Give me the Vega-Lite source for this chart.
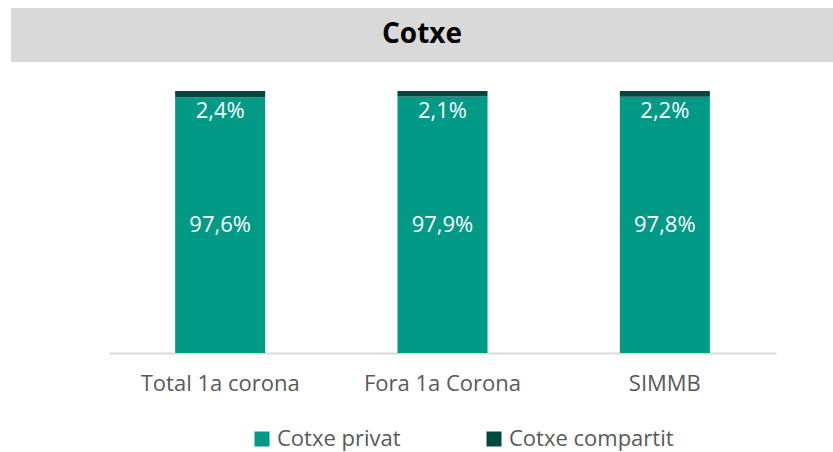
{
  "$schema": "https://vega.github.io/schema/vega-lite/v6.json",
  "padding": {"left": 11, "top": 8, "right": 0, "bottom": 2},
  "background": "white",
  "spacing": 29,
  "config": {
    "locale": {"number": {"decimal": ",", "thousands": ".", "grouping": [3], "currency": ["", " €"]}},
    "view": {"stroke": null},
    "font": "Open Sans"
  },
  "vconcat": [
    {
      "width": 822,
      "height": 54,
      "view": {"fill": "#d9d9d9", "stroke": null},
      "data": {"values": [{"titol": "Cotxe"}]},
      "mark": {"type": "text", "font": "Open Sans", "fontWeight": "bold", "fontSize": 28, "color": "#000000"},
      "encoding": {"text": {"field": "titol", "type": "nominal"}}
    },
    {
      "width": 765,
      "height": 262,
      "data": {
        "values": [
          {"categoria": "Total 1a corona", "serie": "Cotxe privat", "ordre": 1, "value": 0.976},
          {"categoria": "Total 1a corona", "serie": "Cotxe compartit", "ordre": 2, "value": 0.024},
          {"categoria": "Fora 1a Corona", "serie": "Cotxe privat", "ordre": 1, "value": 0.979},
          {"categoria": "Fora 1a Corona", "serie": "Cotxe compartit", "ordre": 2, "value": 0.021},
          {"categoria": "SIMMB", "serie": "Cotxe privat", "ordre": 1, "value": 0.978},
          {"categoria": "SIMMB", "serie": "Cotxe compartit", "ordre": 2, "value": 0.022}
        ]
      },
      "transform": [
        {"stack": "value", "groupby": ["categoria"], "sort": [{"field": "ordre", "order": "ascending"}], "as": ["v0", "v1"]},
        {"calculate": "(datum.v0 + datum.v1) / 2", "as": "vmid"}
      ],
      "encoding": {
        "x": {
          "field": "categoria",
          "type": "nominal",
          "sort": ["Total 1a corona", "Fora 1a Corona", "SIMMB"],
          "scale": {"range": [98, 765], "paddingInner": 0.595, "paddingOuter": 0.2975},
          "axis": {
            "title": null,
            "labelAngle": 0,
            "ticks": false,
            "domainColor": "#d9d9d9",
            "domainWidth": 2,
            "labelFont": "Open Sans",
            "labelFontSize": 22,
            "labelColor": "#595959",
            "labelPadding": 20
          }
        }
      },
      "layer": [
        {
          "mark": {"type": "bar"},
          "encoding": {
            "y": {
              "field": "v1",
              "type": "quantitative",
              "scale": {"domain": [0, 1], "nice": false},
              "axis": null
            },
            "y2": {"field": "v0"},
            "color": {
              "field": "serie",
              "type": "nominal",
              "scale": {"domain": ["Cotxe privat", "Cotxe compartit"], "range": ["#009a86", "#00493e"]},
              "legend": {
                "orient": "none",
                "legendX": 240,
                "legendY": 420,
                "direction": "horizontal",
                "title": null,
                "symbolType": "square",
                "symbolSize": 225,
                "symbolStrokeWidth": 0,
                "labelFont": "Open Sans",
                "labelFontSize": 22,
                "labelColor": "#595959",
                "labelOffset": 4,
                "labelLimit": 400,
                "columnPadding": 82
              }
            }
          }
        },
        {
          "transform": [{"filter": "datum.serie == 'Cotxe privat'"}],
          "mark": {"type": "text", "color": "#ffffff", "fontSize": 22, "font": "Open Sans"},
          "encoding": {
            "y": {"field": "vmid", "type": "quantitative", "axis": null},
            "text": {"field": "value", "type": "quantitative", "format": ".1%"}
          }
        },
        {
          "transform": [{"filter": "datum.serie == 'Cotxe compartit'"}],
          "mark": {"type": "text", "color": "#ffffff", "fontSize": 22, "font": "Open Sans", "dy": 20},
          "encoding": {
            "y": {"field": "v1", "type": "quantitative", "axis": null},
            "text": {"field": "value", "type": "quantitative", "format": ".1%"}
          }
        }
      ]
    }
  ]
}
